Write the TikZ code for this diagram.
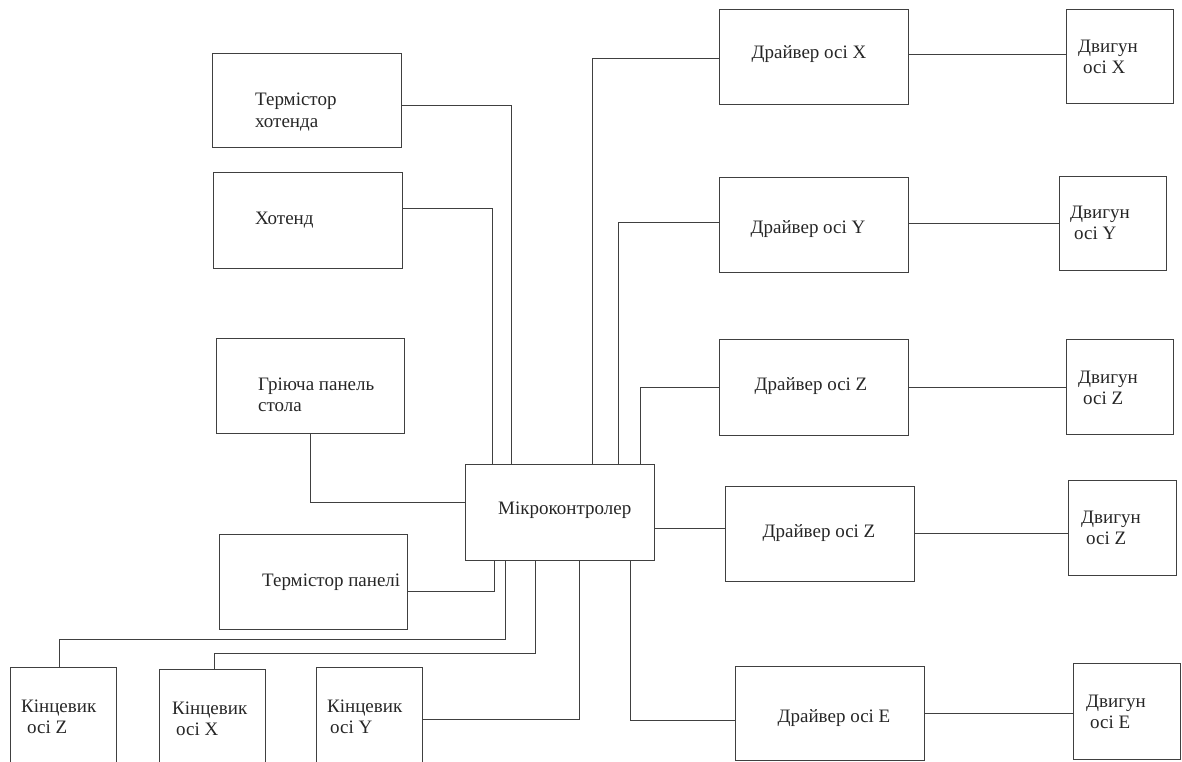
\documentclass[tikz,border=0pt]{standalone}
\usepackage{fontspec}
\setmainfont{Liberation Serif}
\begin{document}
\begin{tikzpicture}[x=1pt,y=-1pt,
  box/.style={draw=black!75, line width=0.9pt, inner sep=0pt, outer sep=0pt, anchor=north west},
  txt/.style={font=\fontsize{19}{21.5}\selectfont, inner sep=0pt, align=left, text=black!85},
  wire/.style={draw=black!75, line width=0.8pt}]
\useasboundingbox (0,0) rectangle (1182,761);
% left blocks
\node[box, minimum width=189pt, minimum height=94pt] (tkh) at (212,53) {};
\node[box, minimum width=189pt, minimum height=96pt] (hot) at (213,172) {};
\node[box, minimum width=188pt, minimum height=95pt] (bed) at (216,338) {};
\node[box, minimum width=188pt, minimum height=95pt] (tp) at (219,534) {};
\node[box, minimum width=189pt, minimum height=96pt] (mcu) at (465,464) {};
% limit switches
\node[box, minimum width=106pt, minimum height=110pt] (kz) at (10,667) {};
\node[box, minimum width=106pt, minimum height=110pt] (kx) at (159,669) {};
\node[box, minimum width=106pt, minimum height=110pt] (ky) at (316,667) {};
% drivers and motors
\node[box, minimum width=189pt, minimum height=95pt] (dx) at (719,9) {};
\node[box, minimum width=107pt, minimum height=94pt] (mx) at (1066,9) {};
\node[box, minimum width=189pt, minimum height=95pt] (dy) at (719,177) {};
\node[box, minimum width=107pt, minimum height=94pt] (my) at (1059,176) {};
\node[box, minimum width=189pt, minimum height=96pt] (dz1) at (719,339) {};
\node[box, minimum width=107pt, minimum height=95pt] (mz1) at (1066,339) {};
\node[box, minimum width=189pt, minimum height=95pt] (dz2) at (725,486) {};
\node[box, minimum width=108pt, minimum height=95pt] (mz2) at (1068,480) {};
\node[box, minimum width=189pt, minimum height=94pt] (de) at (735,666) {};
\node[box, minimum width=107pt, minimum height=96pt] (me) at (1073,663) {};
% texts
\node[txt, anchor=west] (ttkh) at (255,112) {Термістор\\хотенда};
\node[txt, anchor=west] (thot) at (255,220) {Хотенд};
\node[txt, anchor=west] (tbed) at (258,395) {Гріюча панель\\стола};
\node[txt, anchor=west] (ttp) at (262,582) {Термістор панелі};
\node[txt, anchor=west] (tmcu) at (498,510) {Мікроконтролер};
\node[txt, anchor=west] (tkz) at (21,717) {Кінцевик\\\hspace*{6pt}осі Z};
\node[txt, anchor=west] (tkx) at (172,719) {Кінцевик\\\hspace*{4pt}осі X};
\node[txt, anchor=west] (tky) at (327,717) {Кінцевик\\\hspace*{3pt}осі Y};
\node[txt] (tdx) at (809,54) {Драйвер осі X};
\node[txt] (tdy) at (808,229) {Драйвер осі Y};
\node[txt] (tdz1) at (811,386) {Драйвер осі Z};
\node[txt] (tdz2) at (819,533) {Драйвер осі Z};
\node[txt] (tde) at (834,718) {Драйвер осі E};
\node[txt, anchor=west] (tmx) at (1078,57) {Двигун\\\hspace*{5pt}осі X};
\node[txt, anchor=west] (tmy) at (1070,223) {Двигун\\\hspace*{4pt}осі Y};
\node[txt, anchor=west] (tmz1) at (1078,388) {Двигун\\\hspace*{5pt}осі Z};
\node[txt, anchor=west] (tmz2) at (1081,528) {Двигун\\\hspace*{5pt}осі Z};
\node[txt, anchor=west] (tme) at (1086,712) {Двигун\\\hspace*{4pt}осі E};
% connectors to microcontroller (left side)
\draw[wire] (tkh.east |- 0,105) -| (511,0 |- mcu.north);
\draw[wire] (hot.east |- 0,208) -| (492,0 |- mcu.north);
\draw[wire] (bed.south) |- (mcu.west |- 0,502);
\draw[wire] (tp.east |- 0,591) -| (494,0 |- mcu.south);
\draw[wire] (kz.north -| 59,0) -- (59,639) -- (505,639) -- (505,0 |- mcu.south);
\draw[wire] (kx.north -| 214,0) -- (214,653) -- (535,653) -- (535,0 |- mcu.south);
\draw[wire] (ky.east |- 0,719) -| (579,0 |- mcu.south);
% connectors to drivers
\draw[wire] (592,0 |- mcu.north) |- (dx.west |- 0,58);
\draw[wire] (618,0 |- mcu.north) |- (dy.west |- 0,222);
\draw[wire] (640,0 |- mcu.north) |- (dz1.west);
\draw[wire] (mcu.east |- 0,528) -- (dz2.west |- 0,528);
\draw[wire] (630,0 |- mcu.south) |- (de.west |- 0,720);
% drivers to motors
\draw[wire] (dx.east |- 0,54) -- (mx.west |- 0,54);
\draw[wire] (dy.east |- 0,223) -- (my.west |- 0,223);
\draw[wire] (dz1.east) -- (mz1.west |- dz1.east);
\draw[wire] (dz2.east |- 0,533) -- (mz2.west |- 0,533);
\draw[wire] (de.east |- 0,713) -- (me.west |- 0,713);
\end{tikzpicture}
\end{document}
